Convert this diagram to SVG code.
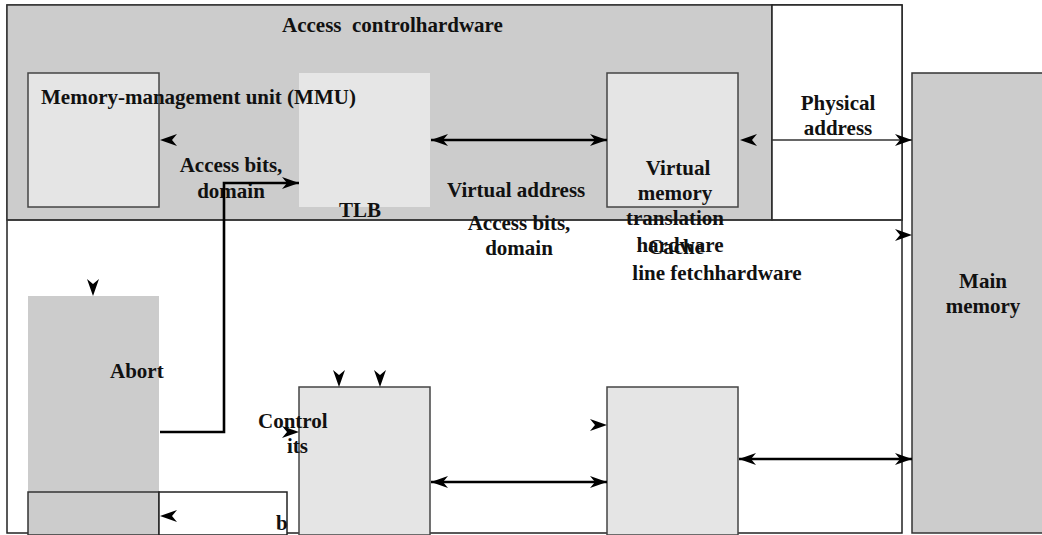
<svg xmlns="http://www.w3.org/2000/svg" xmlns:xlink="http://www.w3.org/1999/xlink" width="1042" height="535" viewBox="0 0 1042 535">
<style>
text{font-family:"Liberation Serif","Times New Roman",serif;font-weight:bold;font-size:21px;fill:#111}
.c{text-anchor:middle}
.frame{fill:#fff;stroke:#222;stroke-width:1.5}
.gray{fill:#cccccc;stroke:#333;stroke-width:1.5}
.light{fill:#e5e5e5;stroke:#444;stroke-width:1.5}
.thick{fill:none;stroke:#000;stroke-width:2.6}
.thin{fill:none;stroke:#333;stroke-width:1.5}
.hd{fill:#000}
</style>
<defs>
<path id="head" d="M0,0 L-17,-6 L-12,0 L-17,6 Z"/>
<marker id="arr" viewBox="-18 -7 19 14" refX="0" refY="0" markerWidth="19" markerHeight="14" markerUnits="userSpaceOnUse" orient="auto-start-reverse">
<path d="M0,0 L-17,-6 L-12,0 L-17,6 Z" fill="#000"/>
</marker>
</defs>
<rect width="1042" height="535" fill="#fff"/>

<g id="system">
<rect class="frame" x="7" y="5" width="895" height="528"/>
<rect class="gray" x="7" y="5" width="765" height="215"/>
<rect class="frame" x="772" y="5" width="130" height="215"/>
<line class="thin" x1="7" y1="220" x2="903" y2="220"/>
<text x="282" y="32" style="white-space:pre">Access  controlhardware</text>
</g>

<g id="main-memory">
<rect class="gray" x="912" y="73" width="135" height="460"/>
<text class="c" x="983" y="288">Main</text>
<text class="c" x="983" y="313">memory</text>
</g>

<g id="mmu">
<rect class="light" x="28" y="73" width="131" height="134"/>
</g>

<g id="tlb">
<rect x="299" y="73" width="131" height="134" fill="#e6e6e6"/>
<text class="c" x="360" y="217">TLB</text>
</g>

<g id="vmt">
<rect class="light" x="607" y="73" width="131" height="134"/>
</g>

<g id="abort">
<rect x="28" y="296" width="131" height="237" fill="#cccccc"/>
<rect class="gray" x="28" y="492" width="131" height="43"/>
<rect class="frame" x="159" y="492" width="128" height="43"/>
<text x="110" y="378">Abort</text>
<text x="276" y="530">b</text>
</g>

<g id="cache">
<rect class="light" x="299" y="387" width="131" height="148"/>
</g>

<g id="line-fetch">
<rect class="light" x="607" y="387" width="131" height="148"/>
</g>

<g id="labels">
<text x="41" y="104">Memory-management unit (MMU)</text>
<text class="c" x="231" y="172">Access bits,</text>
<text class="c" x="231" y="198">domain</text>
<text x="447" y="197">Virtual address</text>
<text class="c" x="519" y="230">Access bits,</text>
<text class="c" x="519" y="255">domain</text>
<text class="c" x="678" y="175">Virtual</text>
<text class="c" x="675" y="200">memory</text>
<text class="c" x="675" y="225">translation</text>
<text class="c" x="680" y="252">hardware</text>
<text class="c" x="676" y="254">Cache</text>
<text class="c" x="717" y="280">line fetchhardware</text>
<text class="c" x="838" y="110">Physical</text>
<text class="c" x="838" y="135">address</text>
<text x="258" y="428">Control</text>
<text x="287" y="453">its</text>
</g>

<g id="connectors">
<line class="thick" x1="431" y1="140" x2="607" y2="140" marker-start="url(#arr)" marker-end="url(#arr)"/>
<line class="thin" x1="772" y1="140" x2="912" y2="140" marker-end="url(#arr)"/>
<path class="thick" d="M160,432 H224 V183 H299" marker-end="url(#arr)"/>
<line class="thick" x1="431" y1="482" x2="607" y2="482" marker-start="url(#arr)" marker-end="url(#arr)"/>
<line class="thick" x1="739" y1="459" x2="912" y2="459" marker-start="url(#arr)" marker-end="url(#arr)"/>
<use class="hd" xlink:href="#head" transform="translate(160,140) rotate(180)"/>
<use class="hd" xlink:href="#head" transform="translate(740,140) rotate(180)"/>
<use class="hd" xlink:href="#head" transform="translate(912,235)"/>
<use class="hd" xlink:href="#head" transform="translate(93,296) rotate(90)"/>
<use class="hd" xlink:href="#head" transform="translate(339,387) rotate(90)"/>
<use class="hd" xlink:href="#head" transform="translate(380,387) rotate(90)"/>
<use class="hd" xlink:href="#head" transform="translate(299,432)"/>
<use class="hd" xlink:href="#head" transform="translate(607,425)"/>
<use class="hd" xlink:href="#head" transform="translate(160,516) rotate(180)"/>
</g>
</svg>
